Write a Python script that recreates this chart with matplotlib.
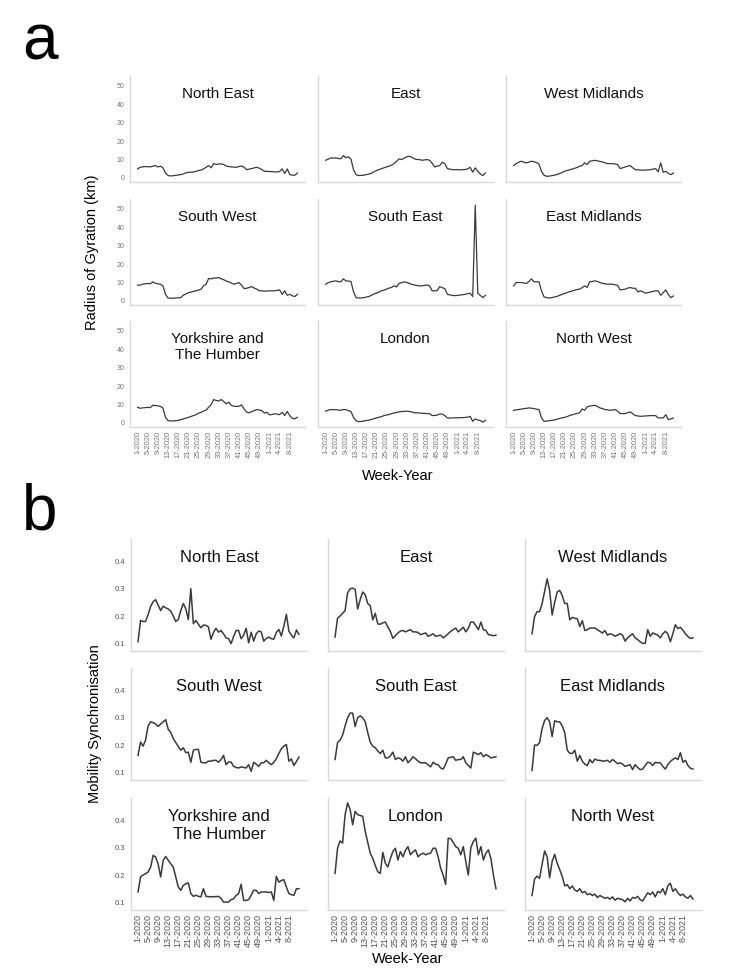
import numpy as np
import matplotlib
matplotlib.use("Agg")
import matplotlib.pyplot as plt

plt.rcParams['font.family'] = ['Liberation Sans', 'DejaVu Sans']

regions = ['North East', 'East', 'West Midlands',
           'South West', 'South East', 'East Midlands',
           'Yorkshire and\nThe Humber', 'London', 'North West']

week_labels = ['1-2020', '5-2020', '9-2020', '13-2020', '17-2020', '21-2020',
               '25-2020', '29-2020', '33-2020', '37-2020', '41-2020', '45-2020',
               '49-2020', '1-2021', '4-2021', '8-2021']

# radius of gyration (km), weekly
rog_north_east = [4.9, 5.8, 6.0, 6.2, 6.1, 6.0, 6.4, 6.7, 6.0, 6.4, 5.5,
                  2.7, 1.3, 1.1, 1.2, 1.4, 1.6, 1.8, 2.2, 2.7, 3.1,
                  3.1, 3.2, 3.6, 4.0, 4.3, 4.9, 5.8, 6.7, 5.5, 7.8,
                  7.3, 7.6, 7.6, 7.3, 6.4, 6.2, 6.0, 5.9, 5.8, 6.2,
                  6.5, 5.8, 4.5, 4.8, 5.1, 5.5, 5.8, 5.3, 4.6, 3.6,
                  3.6, 3.5, 3.4, 3.3, 3.3, 3.5, 4.9, 2.4, 4.9, 1.8, 1.5, 1.5, 2.7]
rog_east = [9.6, 10.2, 10.9, 10.8, 10.9, 10.6, 10.4, 12.2, 11.0, 11.5, 10.2,
            4.5, 1.8, 1.3, 1.4, 1.5, 1.8, 2.1, 2.5, 3.2, 4.0,
            4.5, 5.0, 5.5, 6.0, 6.4, 7.0, 7.8, 9.1, 10.4, 10.0,
            10.8, 11.5, 11.8, 11.2, 10.4, 10.0, 10.0, 9.6, 9.8, 10.0,
            9.6, 8.0, 6.0, 6.4, 6.7, 8.5, 7.8, 5.1, 4.8, 4.5,
            4.5, 4.5, 4.4, 4.5, 4.6, 4.9, 5.8, 3.1, 5.5, 3.6, 2.2, 1.3, 2.7]
rog_west_midlands = [6.7, 7.8, 8.5, 9.1, 8.6, 8.2, 8.6, 9.1, 8.8, 8.4, 7.5,
                     3.5, 1.5, 0.9, 1.0, 1.2, 1.5, 1.8, 2.3, 2.9, 3.6,
                     4.0, 4.4, 4.8, 5.2, 5.7, 6.3, 6.7, 8.2, 7.3, 9.1,
                     9.3, 9.6, 9.3, 9.0, 8.7, 8.2, 7.8, 7.8, 7.8, 7.6,
                     7.3, 5.1, 5.5, 6.0, 6.4, 6.7, 5.5, 4.5, 4.4, 4.3,
                     4.2, 4.3, 4.4, 4.5, 4.8, 5.1, 3.3, 8.2, 3.1, 3.6, 2.5, 1.8, 2.7]
rog_south_west = [8.5, 8.7, 9.1, 9.3, 9.5, 9.3, 10.4, 9.6, 9.3, 9.1, 8.2,
                  3.6, 1.6, 1.5, 1.5, 1.6, 1.7, 1.8, 3.1, 3.8, 4.5,
                  4.8, 5.2, 5.5, 5.9, 6.4, 8.2, 9.1, 12.2, 12.0, 12.4,
                  12.5, 12.7, 12.0, 11.5, 10.8, 10.4, 9.7, 9.1, 9.5, 10.0,
                  8.5, 6.7, 6.9, 7.3, 7.8, 7.0, 6.4, 5.5, 5.5, 5.3,
                  5.4, 5.5, 5.5, 5.5, 5.8, 6.0, 3.6, 5.5, 3.1, 3.6, 2.8, 2.4, 3.6]
rog_south_east = [9.1, 9.9, 10.4, 10.7, 10.9, 10.5, 10.4, 12.0, 10.9, 10.8, 10.5,
                  5.0, 1.8, 1.6, 1.6, 1.8, 2.1, 2.4, 3.0, 3.8, 4.2,
                  4.8, 5.5, 5.9, 6.4, 7.0, 7.3, 8.2, 7.6, 9.6, 9.9,
                  10.4, 10.0, 9.6, 9.0, 8.7, 8.4, 8.2, 8.2, 8.4, 8.7,
                  8.2, 5.5, 5.5, 5.6, 7.8, 7.2, 6.7, 3.6, 3.3, 3.0,
                  2.9, 3.0, 3.2, 3.4, 3.6, 4.0, 4.2, 2.4, 52.0, 4.2, 3.0, 1.8, 3.1]
rog_east_midlands = [8.2, 10.0, 10.0, 10.0, 9.8, 9.5, 10.5, 12.0, 10.4, 10.4, 10.4,
                     5.5, 2.2, 1.8, 1.6, 1.8, 2.1, 2.4, 3.0, 3.5, 4.0,
                     4.5, 5.0, 5.4, 5.8, 6.2, 6.4, 7.2, 8.2, 7.3, 10.4,
                     10.6, 10.9, 10.6, 10.0, 9.6, 9.3, 9.1, 9.1, 9.1, 8.8,
                     8.5, 6.0, 6.2, 6.4, 7.0, 7.3, 6.9, 6.9, 4.9, 5.5,
                     5.0, 4.2, 4.5, 4.9, 5.2, 5.5, 5.5, 3.1, 4.5, 6.0, 3.5, 1.8, 2.7]
rog_yorkshire = [8.5, 8.0, 8.2, 8.3, 8.5, 8.3, 9.6, 9.5, 9.3, 9.0, 8.0,
                 3.0, 1.3, 1.1, 1.1, 1.2, 1.4, 1.8, 2.2, 2.6, 3.0,
                 3.5, 4.0, 4.5, 5.3, 5.8, 6.4, 7.0, 8.5, 10.0, 12.7,
                 12.2, 12.0, 12.7, 11.6, 10.4, 11.3, 9.5, 9.1, 9.0, 9.1,
                 9.8, 7.6, 5.8, 5.5, 6.2, 6.7, 7.3, 7.0, 6.7, 5.3,
                 5.8, 4.4, 4.6, 5.0, 4.8, 4.5, 5.8, 4.0, 6.2, 4.0, 2.5, 2.2, 3.1]
rog_london = [6.4, 6.9, 7.3, 7.2, 7.2, 7.0, 6.9, 7.3, 7.2, 6.7, 6.2,
              3.0, 1.3, 0.7, 0.8, 1.0, 1.3, 1.5, 1.9, 2.3, 2.7,
              3.1, 3.4, 4.0, 4.3, 4.6, 5.1, 5.4, 5.7, 6.0, 6.2,
              6.3, 6.4, 6.2, 6.0, 5.5, 5.5, 5.4, 5.3, 5.2, 5.1,
              5.0, 4.0, 4.1, 4.2, 4.9, 4.8, 4.0, 2.7, 2.7, 2.7,
              2.8, 2.8, 2.9, 2.9, 3.0, 3.1, 3.6, 0.9, 2.2, 1.6, 1.3, 0.4, 1.5]
rog_north_west = [6.9, 7.1, 7.3, 7.5, 7.8, 7.9, 8.2, 8.0, 7.8, 7.5, 7.3,
                  2.7, 0.9, 1.0, 1.2, 1.4, 1.6, 2.0, 2.4, 2.7, 3.0,
                  3.4, 4.0, 4.4, 4.8, 5.2, 5.5, 7.6, 6.9, 8.7, 9.2,
                  9.4, 9.6, 9.0, 8.2, 7.8, 7.3, 7.1, 6.9, 7.0, 7.3,
                  6.4, 5.1, 5.1, 5.1, 5.6, 6.0, 5.0, 4.0, 3.8, 3.6,
                  3.7, 3.8, 3.9, 4.0, 4.0, 4.0, 2.7, 2.8, 2.7, 4.5, 1.8, 2.2, 2.7]

# mobility synchronisation, weekly
sync_north_east = [0.106, 0.184, 0.180, 0.180, 0.205, 0.235, 0.252, 0.260, 0.240, 0.220,
                   0.236, 0.230, 0.226, 0.218, 0.200, 0.180, 0.187, 0.220, 0.246, 0.226,
                   0.187, 0.300, 0.172, 0.184, 0.170, 0.157, 0.167, 0.166, 0.160, 0.115,
                   0.140, 0.155, 0.141, 0.147, 0.135, 0.120, 0.117, 0.099, 0.125, 0.147,
                   0.147, 0.117, 0.130, 0.155, 0.102, 0.141, 0.108, 0.135, 0.145, 0.142,
                   0.108, 0.118, 0.123, 0.117, 0.115, 0.140, 0.151, 0.127, 0.163, 0.206,
                   0.145, 0.130, 0.120, 0.149, 0.133]
sync_east = [0.123, 0.192, 0.200, 0.210, 0.220, 0.285, 0.300, 0.302, 0.298, 0.226,
             0.260, 0.288, 0.278, 0.246, 0.238, 0.186, 0.210, 0.171, 0.170, 0.175,
             0.178, 0.160, 0.144, 0.118, 0.128, 0.138, 0.145, 0.147, 0.142, 0.146,
             0.150, 0.142, 0.142, 0.140, 0.132, 0.135, 0.138, 0.126, 0.130, 0.135,
             0.126, 0.128, 0.130, 0.120, 0.127, 0.135, 0.144, 0.150, 0.156, 0.142,
             0.150, 0.159, 0.142, 0.155, 0.178, 0.178, 0.165, 0.150, 0.178, 0.150,
             0.147, 0.132, 0.130, 0.128, 0.130]
sync_west_midlands = [0.135, 0.198, 0.216, 0.216, 0.245, 0.290, 0.336, 0.294, 0.204, 0.250,
                      0.288, 0.294, 0.275, 0.246, 0.246, 0.186, 0.195, 0.192, 0.190, 0.162,
                      0.183, 0.147, 0.150, 0.156, 0.156, 0.156, 0.150, 0.144, 0.138, 0.147,
                      0.130, 0.135, 0.132, 0.126, 0.130, 0.135, 0.130, 0.108, 0.120, 0.128,
                      0.135, 0.120, 0.114, 0.106, 0.100, 0.100, 0.150, 0.126, 0.138, 0.134,
                      0.130, 0.120, 0.135, 0.144, 0.135, 0.106, 0.135, 0.168, 0.154, 0.159,
                      0.148, 0.135, 0.125, 0.118, 0.120]
sync_south_west = [0.162, 0.211, 0.196, 0.218, 0.270, 0.285, 0.282, 0.277, 0.268, 0.277,
                   0.285, 0.293, 0.258, 0.246, 0.224, 0.209, 0.195, 0.181, 0.190, 0.172,
                   0.174, 0.137, 0.181, 0.184, 0.184, 0.137, 0.135, 0.135, 0.141, 0.141,
                   0.144, 0.144, 0.137, 0.147, 0.162, 0.128, 0.138, 0.138, 0.122, 0.118,
                   0.116, 0.120, 0.118, 0.116, 0.128, 0.104, 0.137, 0.130, 0.122, 0.135,
                   0.135, 0.144, 0.135, 0.128, 0.137, 0.150, 0.169, 0.186, 0.196, 0.202,
                   0.141, 0.149, 0.125, 0.140, 0.156]
sync_south_east = [0.147, 0.209, 0.218, 0.236, 0.270, 0.300, 0.317, 0.317, 0.268, 0.300,
                   0.307, 0.300, 0.285, 0.246, 0.210, 0.196, 0.190, 0.178, 0.169, 0.181,
                   0.153, 0.153, 0.160, 0.174, 0.147, 0.153, 0.150, 0.141, 0.157, 0.135,
                   0.145, 0.157, 0.150, 0.141, 0.135, 0.135, 0.135, 0.128, 0.120, 0.137,
                   0.130, 0.128, 0.116, 0.112, 0.130, 0.153, 0.155, 0.157, 0.144, 0.147,
                   0.147, 0.157, 0.135, 0.125, 0.116, 0.174, 0.170, 0.165, 0.172, 0.157,
                   0.165, 0.160, 0.153, 0.155, 0.157]
sync_east_midlands = [0.107, 0.200, 0.199, 0.209, 0.260, 0.290, 0.300, 0.285, 0.231, 0.289,
                      0.285, 0.285, 0.270, 0.246, 0.181, 0.170, 0.169, 0.181, 0.141, 0.162,
                      0.141, 0.130, 0.125, 0.147, 0.135, 0.149, 0.144, 0.144, 0.141, 0.142,
                      0.144, 0.137, 0.147, 0.140, 0.132, 0.135, 0.130, 0.122, 0.125, 0.128,
                      0.110, 0.128, 0.118, 0.110, 0.112, 0.125, 0.137, 0.135, 0.125, 0.137,
                      0.135, 0.135, 0.122, 0.112, 0.128, 0.140, 0.147, 0.153, 0.147, 0.172,
                      0.137, 0.144, 0.125, 0.115, 0.112]
sync_yorkshire = [0.138, 0.193, 0.200, 0.205, 0.211, 0.229, 0.272, 0.266, 0.240, 0.193,
                  0.254, 0.268, 0.254, 0.241, 0.229, 0.193, 0.156, 0.144, 0.162, 0.168,
                  0.171, 0.132, 0.122, 0.126, 0.122, 0.120, 0.150, 0.122, 0.121, 0.120,
                  0.121, 0.121, 0.122, 0.115, 0.101, 0.101, 0.101, 0.110, 0.113, 0.125,
                  0.132, 0.166, 0.107, 0.107, 0.110, 0.126, 0.144, 0.144, 0.132, 0.138,
                  0.138, 0.138, 0.136, 0.138, 0.107, 0.195, 0.174, 0.180, 0.183, 0.156,
                  0.132, 0.128, 0.126, 0.150, 0.150]
sync_london = [0.206, 0.298, 0.325, 0.317, 0.421, 0.464, 0.440, 0.384, 0.433, 0.421,
               0.418, 0.415, 0.360, 0.320, 0.280, 0.261, 0.235, 0.212, 0.206, 0.283,
               0.243, 0.230, 0.260, 0.286, 0.298, 0.255, 0.286, 0.267, 0.290, 0.304,
               0.274, 0.285, 0.292, 0.267, 0.275, 0.280, 0.274, 0.278, 0.280, 0.298,
               0.298, 0.267, 0.225, 0.200, 0.166, 0.335, 0.333, 0.320, 0.304, 0.298,
               0.274, 0.304, 0.249, 0.200, 0.300, 0.323, 0.335, 0.274, 0.304, 0.255,
               0.280, 0.292, 0.260, 0.200, 0.150]
sync_north_west = [0.125, 0.185, 0.196, 0.188, 0.240, 0.288, 0.267, 0.190, 0.250, 0.276,
                   0.243, 0.220, 0.195, 0.160, 0.165, 0.150, 0.160, 0.145, 0.140, 0.150,
                   0.135, 0.140, 0.128, 0.132, 0.125, 0.130, 0.118, 0.125, 0.120, 0.115,
                   0.118, 0.112, 0.120, 0.108, 0.115, 0.112, 0.110, 0.102, 0.115, 0.105,
                   0.118, 0.115, 0.122, 0.110, 0.105, 0.120, 0.135, 0.128, 0.138, 0.120,
                   0.140, 0.135, 0.150, 0.128, 0.160, 0.170, 0.140, 0.150, 0.135, 0.125,
                   0.130, 0.120, 0.115, 0.125, 0.112]

rog = [rog_north_east, rog_east, rog_west_midlands,
       rog_south_west, rog_south_east, rog_east_midlands,
       rog_yorkshire, rog_london, rog_north_west]
sync = [sync_north_east, sync_east, sync_west_midlands,
        sync_south_west, sync_south_east, sync_east_midlands,
        sync_yorkshire, sync_london, sync_north_west]

W, H = 748, 975
fig = plt.figure(figsize=(W / 100, H / 100), dpi=100)
spine_col = '#d9d9d9'


def panel(data, lefts, tops, w, h, ylim, yticks, ylabels, xlim, lw, tsize,
          tick_col, xsize, ysize):
    for i, series in enumerate(data):
        r, c = divmod(i, 3)
        ax = fig.add_axes([lefts[c] / W, 1 - (tops[r] + h) / H, w / W, h / H])
        ax.plot(np.arange(len(series)), series, color='#3a3a3a', lw=lw)
        ax.set_xlim(*xlim)
        ax.set_ylim(*ylim)
        for s in ['top', 'right']:
            ax.spines[s].set_visible(False)
        for s in ['left', 'bottom']:
            ax.spines[s].set_color(spine_col)
            ax.spines[s].set_linewidth(1.0)
        ax.tick_params(length=0, labelcolor=tick_col, pad=3)
        ax.tick_params(axis='x', labelsize=xsize)
        ax.tick_params(axis='y', labelsize=ysize, pad=4)
        ax.set_yticks(yticks)
        if c == 0:
            ax.set_yticklabels(ylabels)
        else:
            ax.set_yticklabels([])
        ax.set_xticks(np.arange(0, 61, 4))
        if r == 2:
            ax.set_xticklabels(week_labels, rotation=90)
        else:
            ax.set_xticklabels([])
        ax.text(0.5, 0.9, regions[i], transform=ax.transAxes, ha='center', va='top',
                fontsize=tsize, linespacing=1.25, color='#111111')


panel(rog, [130, 318, 506], [76, 199, 321], 175, 106, (-2.2, 55.4),
      [0, 10, 20, 30, 40, 50], ['0', '10', '20', '30', '40', '50'],
      (-3.0, 66.0), 0.9, 11, '#777777', 5.3, 5)
panel(sync, [131, 328, 525], [539, 668, 798], 176, 112, (0.072, 0.482),
      [0.1, 0.2, 0.3, 0.4], ['0.1', '0.2', '0.3', '0.4'],
      (-2.8, 67.2), 1.1, 12, '#555555', 6.5, 5.5)

fig.text(22 / W, 1 - 60 / H, 'a', fontsize=46, ha='left', va='baseline')
fig.text(22 / W, 1 - 530 / H, 'b', fontsize=46, ha='left', va='baseline')

fig.text(92 / W, 1 - 252 / H, 'Radius of Gyration (km)', rotation=90,
         ha='center', va='center', fontsize=10.5)
fig.text(95 / W, 1 - 724 / H, 'Mobility Synchronisation', rotation=90,
         ha='center', va='center', fontsize=10.5)
fig.text(398 / W, 1 - 476 / H, 'Week-Year', ha='center', va='center', fontsize=10.5)
fig.text(408 / W, 1 - 959 / H, 'Week-Year', ha='center', va='center', fontsize=10.5)

fig.savefig('out.png', dpi=100)
